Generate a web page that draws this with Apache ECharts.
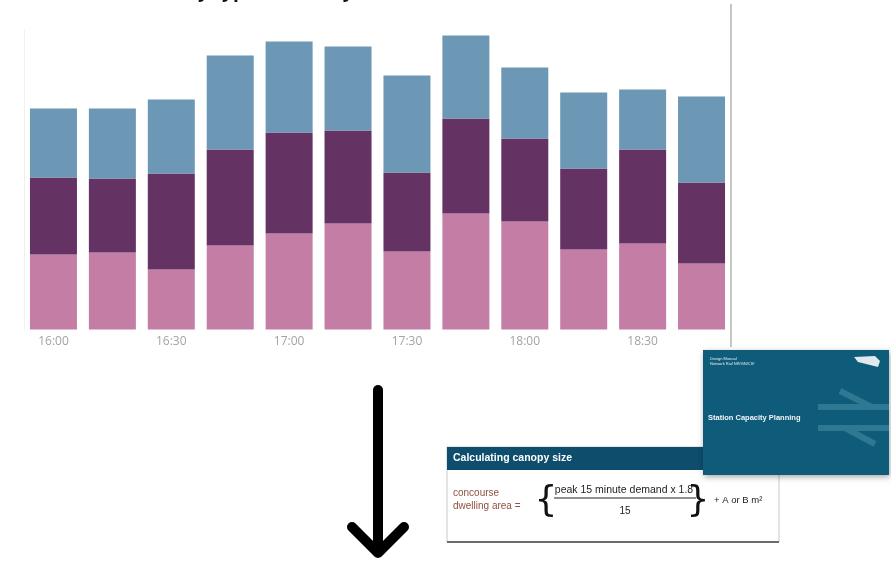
<!DOCTYPE html>
<html>
<head>
<meta charset="utf-8">
<script src="https://cdn.jsdelivr.net/npm/echarts@6/dist/echarts.min.js"></script>
<style>
  html, body { margin: 0; padding: 0; background: #fff; }
  #chart { width: 891px; height: 561px; }
</style>
</head>
<body>
<div id="chart"></div>
<script>
// Quarter-hour slots through the evening peak
const slots = ['16:00','16:15','16:30','16:45','17:00','17:15','17:30','17:45','18:00','18:15','18:30','18:45'];

// Stacked passenger volumes per slot (bottom, middle, top segments)
const lowerSeg  = [75, 77, 60, 84, 96, 106, 78, 116, 108, 80, 86, 66];
const middleSeg = [77, 74, 96, 96, 101, 93, 79, 95, 83, 81, 94, 81];
const upperSeg  = [69, 70, 74, 94, 91, 84, 97, 83, 71, 76, 60, 86];

const colors = { lower: '#c47da5', middle: '#653264', upper: '#6c97b5' };

const chart = echarts.init(document.getElementById('chart'), null, { renderer: 'canvas' });

const formulaFont = '"Liberation Sans Narrow", "Liberation Sans", Arial, sans-serif';

function bar(name, data, color) {
  return {
    name, type: 'bar', stack: 'total', data,
    barWidth: 47,
    itemStyle: { color },
    emphasis: { disabled: true }
  };
}

chart.setOption({
  backgroundColor: '#ffffff',
  animation: false,
  grid: { left: 24, right: 160, top: 29.5, bottom: 231.5 },
  xAxis: {
    type: 'category',
    data: slots,
    axisLine: { show: false },
    axisTick: { show: false },
    axisLabel: {
      interval: 1,
      margin: 6,
      color: '#a3a3a3',
      fontSize: 12,
      fontFamily: '"Open Sans", sans-serif'
    }
  },
  yAxis: {
    type: 'value',
    min: 0, max: 300,
    axisLine: { show: true, lineStyle: { color: '#f0f0f0' } },
    axisLabel: { show: false },
    axisTick: { show: false },
    splitLine: { show: false }
  },
  series: [
    bar('lower', lowerSeg, colors.lower),
    bar('middle', middleSeg, colors.middle),
    bar('upper', upperSeg, colors.upper)
  ],
  graphic: [
    // heading, sitting above the top edge of the page
    { type: 'text', x: 122, y: 1.5,
      style: { text: 'Weekday typical activity', fill: '#111', font: 'bold 19px "Open Sans", sans-serif', verticalAlign: 'bottom' } },

    // right-hand frame edge of the chart panel
    { type: 'line', shape: { x1: 731, y1: 4, x2: 731, y2: 347 }, style: { stroke: '#c6c6c6', lineWidth: 2 } },

    // downward arrow
    { type: 'polyline', shape: { points: [[378, 390], [378, 550]] },
      style: { stroke: '#000', lineWidth: 10, lineCap: 'round', lineJoin: 'round', fill: null } },
    { type: 'polyline', shape: { points: [[352, 527], [378, 553], [404, 527]] },
      style: { stroke: '#000', lineWidth: 10, lineCap: 'round', lineJoin: 'round', fill: null } },

    // formula panel
    { type: 'rect', shape: { x: 447, y: 447, width: 332, height: 95 },
      style: { fill: '#fff', stroke: '#c8c8c8', lineWidth: 1 } },
    { type: 'line', shape: { x1: 447, y1: 542, x2: 779, y2: 542 }, style: { stroke: '#444', lineWidth: 1.5 } },
    { type: 'rect', shape: { x: 447, y: 447, width: 332, height: 23 }, style: { fill: '#0f4d6d' } },
    { type: 'text', x: 453, y: 458.5,
      style: { text: 'Calculating canopy size', fill: '#fff', font: 'bold 10.5px ' + formulaFont, verticalAlign: 'middle' } },
    { type: 'text', x: 453, y: 493,
      style: { text: 'concourse', fill: '#8d5240', font: '10px ' + formulaFont, verticalAlign: 'middle' } },
    { type: 'text', x: 453, y: 506,
      style: { text: 'dwelling area =', fill: '#8d5240', font: '10px ' + formulaFont, verticalAlign: 'middle' } },
    { type: 'text', x: 546, y: 502,
      style: { text: '{', fill: '#111', font: '36px "DejaVu Sans", sans-serif', align: 'center', verticalAlign: 'middle' } },
    { type: 'text', x: 624, y: 490,
      style: { text: 'peak 15 minute demand x 1.8', fill: '#222', font: '10.5px ' + formulaFont, align: 'center', verticalAlign: 'middle' } },
    { type: 'line', shape: { x1: 554, y1: 498, x2: 696, y2: 498 }, style: { stroke: '#222', lineWidth: 1 } },
    { type: 'text', x: 625, y: 511,
      style: { text: '15', fill: '#222', font: '10px ' + formulaFont, align: 'center', verticalAlign: 'middle' } },
    { type: 'text', x: 698, y: 502,
      style: { text: '}', fill: '#111', font: '36px "DejaVu Sans", sans-serif', align: 'center', verticalAlign: 'middle' } },
    { type: 'text', x: 714, y: 500,
      style: { text: '+ A or B m²', fill: '#222', font: '9.5px ' + formulaFont, verticalAlign: 'middle' } },

    // publication cover
    { type: 'rect', shape: { x: 703, y: 350, width: 186, height: 125 },
      style: { fill: '#0e5b7a', shadowBlur: 6, shadowColor: 'rgba(0,0,0,0.35)', shadowOffsetX: 1, shadowOffsetY: 2 } },
    { type: 'polyline', shape: { points: [[840, 391], [872, 407], [818, 407]] },
      style: { stroke: '#2f7893', lineWidth: 6, fill: null } },
    { type: 'polyline', shape: { points: [[889, 407], [872, 407]] },
      style: { stroke: '#2f7893', lineWidth: 6, fill: null } },
    { type: 'polyline', shape: { points: [[818, 428], [889, 428]] },
      style: { stroke: '#2f7893', lineWidth: 6, fill: null } },
    { type: 'polyline', shape: { points: [[845, 428], [875, 444]] },
      style: { stroke: '#2f7893', lineWidth: 6, fill: null } },
    { type: 'text', x: 710, y: 357,
      style: { text: 'Design Manual', fill: '#e6eef2', font: '4px sans-serif' } },
    { type: 'text', x: 710, y: 362,
      style: { text: 'Network Rail NR/GN/CIV', fill: '#e6eef2', font: '4px sans-serif' } },
    { type: 'polygon', shape: { points: [[854, 357], [875, 356], [880, 361], [878, 367], [858, 362]] },
      style: { fill: '#dfe9ee' } },
    { type: 'text', x: 708, y: 418,
      style: { text: 'Station Capacity Planning', fill: '#f2f6f8', font: 'bold 7.5px "Liberation Sans", Arial, sans-serif', verticalAlign: 'middle' } }
  ]
});
</script>
</body>
</html>
